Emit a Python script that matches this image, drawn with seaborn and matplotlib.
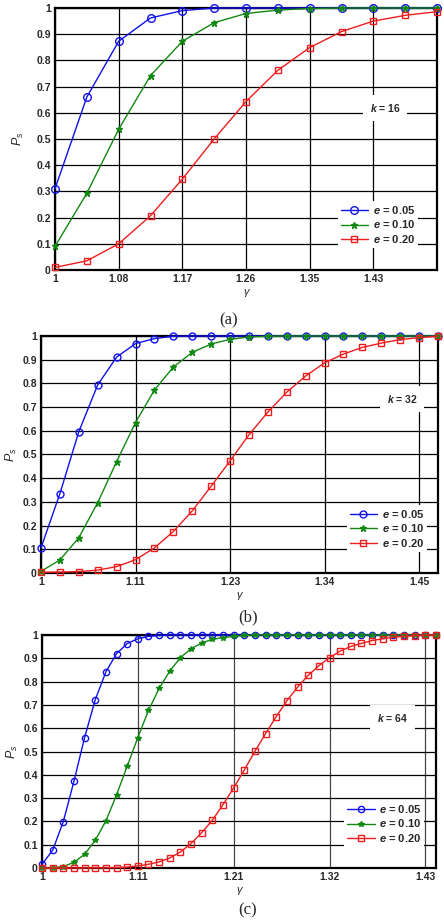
import numpy as np
import seaborn as sns
import matplotlib.pyplot as plt

sns.set_theme(style="white")
plt.rcParams['font.family'] = ['Liberation Sans', 'DejaVu Sans']
plt.rcParams['mathtext.fontset'] = 'custom'
plt.rcParams['mathtext.it'] = 'Liberation Sans:italic:bold'
plt.rcParams['mathtext.rm'] = 'Liberation Sans:bold'
plt.rcParams['mathtext.sf'] = 'Liberation Sans:italic'

# ---- panel (a): k = 16, 13 points
gamma_a = np.linspace(1.0, 1.516, 13)
a_e05 = [0.31, 0.66, 0.873, 0.962, 0.99, 1.0, 1.0, 1.0, 1.0, 1.0, 1.0, 1.0, 1.0]
a_e10 = [0.09, 0.293, 0.537, 0.742, 0.873, 0.944, 0.979, 0.992, 0.998, 1.0, 1.0, 1.0, 1.0]
a_e20 = [0.01, 0.035, 0.10, 0.207, 0.347, 0.50, 0.643, 0.762, 0.849, 0.91, 0.95, 0.972, 0.986]
a_ticks = ['1', '1.08', '1.17', '1.26', '1.35', '1.43']

# ---- panel (b): k = 32, 22 points
gamma_b = np.linspace(1.0, 1.4725, 22)
b_e05 = [0.106, 0.335, 0.596, 0.794, 0.911, 0.968, 0.989, 0.999, 1.0, 1.0, 1.0,
         1.0, 1.0, 1.0, 1.0, 1.0, 1.0, 1.0, 1.0, 1.0, 1.0, 1.0]
b_e10 = [0.007, 0.055, 0.149, 0.297, 0.470, 0.635, 0.772, 0.869, 0.931, 0.966, 0.986,
         0.996, 0.999, 1.0, 1.0, 1.0, 1.0, 1.0, 1.0, 1.0, 1.0, 1.0]
b_e20 = [0.003, 0.004, 0.006, 0.012, 0.027, 0.056, 0.106, 0.175, 0.262, 0.366, 0.473,
         0.583, 0.679, 0.763, 0.831, 0.887, 0.924, 0.952, 0.970, 0.985, 0.993, 0.999]
b_ticks = ['1', '1.11', '1.23', '1.34', '1.45']

# ---- panel (c): k = 64, 38 points
gamma_c = np.linspace(1.0, 1.442, 38)
c_e05 = [0.016, 0.076, 0.199, 0.372, 0.560, 0.722, 0.842, 0.920, 0.963, 0.984, 0.994,
         0.998, 1.0, 1.0, 1.0, 1.0, 1.0, 1.0, 1.0, 1.0, 1.0, 1.0, 1.0, 1.0, 1.0, 1.0,
         1.0, 1.0, 1.0, 1.0, 1.0, 1.0, 1.0, 1.0, 1.0, 1.0, 1.0, 1.0]
c_e10 = [0.0, 0.001, 0.006, 0.024, 0.059, 0.119, 0.202, 0.314, 0.437, 0.560, 0.676,
         0.771, 0.845, 0.903, 0.941, 0.966, 0.981, 0.989, 0.994, 0.998, 1.0, 1.0, 1.0,
         1.0, 1.0, 1.0, 1.0, 1.0, 1.0, 1.0, 1.0, 1.0, 1.0, 1.0, 1.0, 1.0, 1.0, 1.0]
c_e20 = [0.0, 0.0, 0.0, 0.0, 0.0, 0.001, 0.001, 0.002, 0.004, 0.009, 0.016, 0.026,
         0.043, 0.069, 0.105, 0.152, 0.205, 0.272, 0.344, 0.421, 0.501, 0.577, 0.650,
         0.718, 0.776, 0.827, 0.868, 0.903, 0.931, 0.951, 0.964, 0.976, 0.984, 0.990,
         0.994, 0.997, 0.999, 1.0]
c_ticks = ['1', '1.11', '1.21', '1.32', '1.43']

y_ticks = [0, 0.1, 0.2, 0.3, 0.4, 0.5, 0.6, 0.7, 0.8, 0.9, 1]
y_labels = ['0', '0.1', '0.2', '0.3', '0.4', '0.5', '0.6', '0.7', '0.8', '0.9', '1']
e_labels = [r'$e$ = 0.05', r'$e$ = 0.10', r'$e$ = 0.20']

W, H = 444, 922
fig = plt.figure(figsize=(W / 100, H / 100), dpi=100)


def px_axes(left, top, right, bottom):
    return fig.add_axes([left / W, 1 - bottom / H, (right - left) / W, (bottom - top) / H])


def panel(ax, gamma, s05, s10, s20, step, xlabels, k_text, k_xy, leg_xy, ms, ylab_x,
          vgrid='black'):
    styles = [('#1010ee', 'o', 'none', ms),
              ('#118811', '*', '#118811', ms - 0.5),
              ('#ee1c1c', 's', 'none', ms - 0.5)]
    for ys, (c, m, fc, size), lab in zip([s05, s10, s20], styles, e_labels):
        sns.lineplot(x=gamma, y=ys, ax=ax, color=c, marker=m, markersize=size,
                     mfc=fc, mec=c, mew=1.0, lw=1.0, label=lab, clip_on=False, zorder=5)
    ax.set_xlim(gamma[0], gamma[-1])
    ax.set_ylim(0, 1)
    ax.set_xticks(gamma[::step][:len(xlabels)], xlabels)
    ax.set_yticks(y_ticks, y_labels)
    ax.yaxis.grid(True, color='black', lw=0.9)
    ax.xaxis.grid(True, color=vgrid, lw=0.9)
    ax.tick_params(length=0, labelsize=7.5, pad=3)
    for t in ax.get_xticklabels() + ax.get_yticklabels():
        t.set_fontweight('bold')
    for s in ax.spines.values():
        s.set_color('black')
        s.set_linewidth(1.6)
    ax.set_xlabel('γ', style='italic', fontsize=8, labelpad=2)
    ax.set_ylabel(r'$\mathsf{P_s}$', fontsize=9)
    ax.yaxis.set_label_coords(ylab_x, 0.5)
    ax.text(k_xy[0], k_xy[1], k_text, transform=ax.transAxes, ha='center', va='center',
            fontsize=7.5, fontweight='bold', zorder=6,
            bbox=dict(facecolor='white', edgecolor='none', pad=5))
    leg = ax.legend(loc='lower right', bbox_to_anchor=leg_xy, frameon=True, fancybox=False,
                    prop={'weight': 'bold', 'size': 8}, handlelength=2.5,
                    handletextpad=0.4, borderpad=0.25, labelspacing=0.25, borderaxespad=0)
    leg.get_frame().set_facecolor('white')
    leg.get_frame().set_edgecolor('none')
    leg.get_frame().set_alpha(1)
    leg.set_zorder(7)


ax_a = px_axes(55, 8, 437, 270)
panel(ax_a, gamma_a, a_e05, a_e10, a_e20, 2, a_ticks, r'$k$ = 16', (0.864, 0.618),
      (0.95, 0.084), 5.5, -0.075)

ax_b = px_axes(41, 336, 438, 573)
panel(ax_b, gamma_b, b_e05, b_e10, b_e20, 5, b_ticks, r'$k$ = 32', (0.909, 0.734),
      (0.972, 0.089), 5.0, -0.055)

ax_c = px_axes(42, 635, 436, 868)
panel(ax_c, gamma_c, c_e05, c_e10, c_e20, 9, c_ticks, r'$k$ = 64', (0.89, 0.644),
      (0.97, 0.09), 4.5, -0.055, vgrid='#444444')

for label, x, y in [('(a)', 229, 320), ('(b)', 248, 617), ('(c)', 248, 910)]:
    fig.text(x / W, 1 - y / H, label, ha='center', va='center', fontsize=12,
             family='Liberation Serif')

fig.savefig('out.png', dpi=100)
